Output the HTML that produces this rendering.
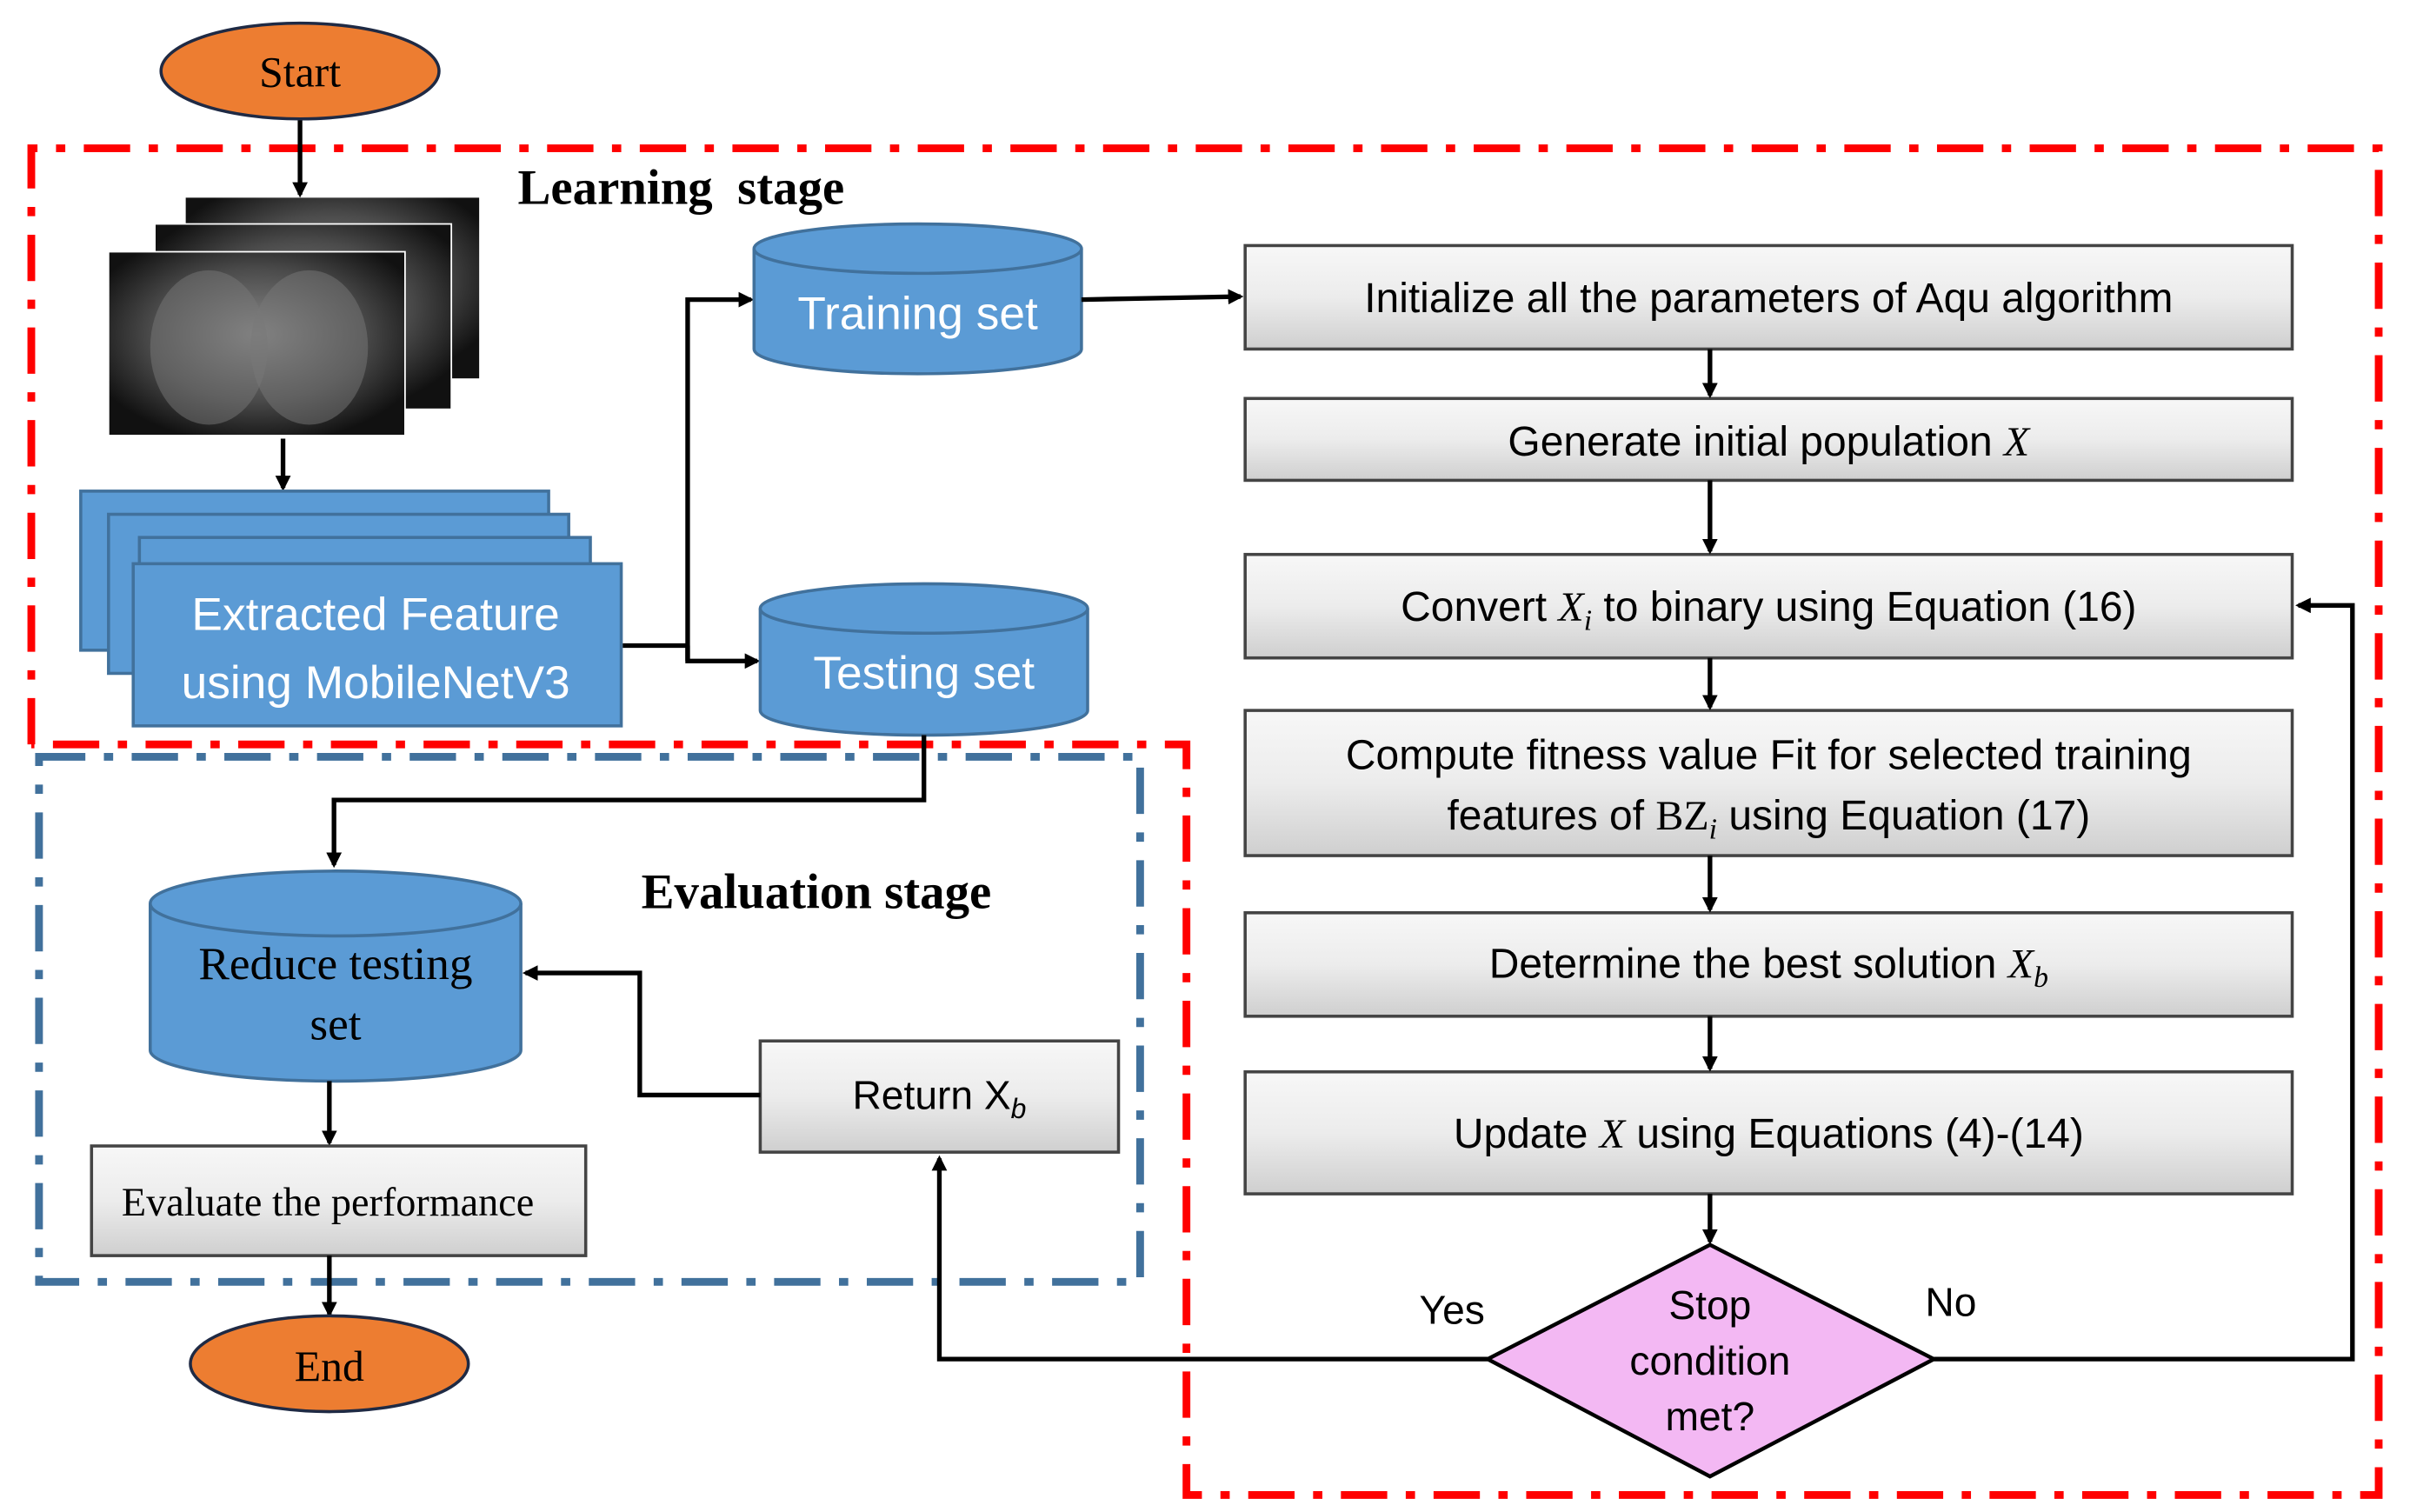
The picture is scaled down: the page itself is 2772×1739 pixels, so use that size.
<!DOCTYPE html>
<html><head><meta charset="utf-8"><style>html,body{margin:0;padding:0;background:#fff}svg{display:block}</style></head><body>
<svg width="2772" height="1739" viewBox="0 0 1560 979" xmlns="http://www.w3.org/2000/svg">
<defs>
<linearGradient id="g" x1="0" y1="0" x2="0" y2="1"><stop offset="0" stop-color="#f7f7f7"/><stop offset="0.5" stop-color="#ececec"/><stop offset="1" stop-color="#cfcfcf"/></linearGradient>
<radialGradient id="x" cx="0.5" cy="0.45" r="0.6"><stop offset="0" stop-color="#8a8a8a"/><stop offset="0.6" stop-color="#4a4a4a"/><stop offset="1" stop-color="#111"/></radialGradient>
<marker id="a" markerWidth="10" markerHeight="10" refX="8" refY="5" orient="auto" markerUnits="userSpaceOnUse"><path d="M0,0 L10,5 L0,10 z" fill="#000"/></marker>
</defs>
<g font-family="Liberation Sans, sans-serif">
<path d="M20,482 L20,96 L1540,96 L1540,968 L768,968 L768,482 L20,482" fill="none" stroke="#ff0000" stroke-width="5" stroke-dasharray="30 12 6 12"/>
<rect x="25" y="490" width="713" height="340" fill="none" stroke="#41719c" stroke-width="5" stroke-dasharray="30 12 6 12"/>
<text x="335" y="132" font-family="Liberation Serif, serif" font-weight="bold" font-size="32">Learning&#160; stage</text>
<text x="415" y="588" font-family="Liberation Serif, serif" font-weight="bold" font-size="32">Evaluation stage</text>
<ellipse cx="194" cy="46" rx="90" ry="31" fill="#ED7D31" stroke="#1f2a44" stroke-width="2"/>
<text x="194" y="56" text-anchor="middle" font-family="Liberation Serif, serif" font-size="28">Start</text>
<line x1="194" y1="78" x2="194" y2="126" stroke="#000" stroke-width="3" marker-end="url(#a)"/>
<rect x="120" y="128" width="190" height="117" fill="url(#x)"/>
<rect x="100" y="145" width="192" height="120" fill="url(#x)" stroke="#fff" stroke-width="1"/>
<rect x="70" y="163" width="192" height="119" fill="url(#x)" stroke="#fff" stroke-width="1"/>
<ellipse cx="135" cy="225" rx="38" ry="50" fill="#777" opacity="0.5"/>
<ellipse cx="200" cy="225" rx="38" ry="50" fill="#777" opacity="0.5"/>
<line x1="183" y1="284" x2="183" y2="316" stroke="#000" stroke-width="3" marker-end="url(#a)"/>
<rect x="52" y="318" width="303" height="103" fill="#5B9BD5" stroke="#41719C" stroke-width="2"/>
<rect x="70" y="333" width="298" height="103" fill="#5B9BD5" stroke="#41719C" stroke-width="2"/>
<rect x="90" y="348" width="292" height="103" fill="#5B9BD5" stroke="#41719C" stroke-width="2"/>
<rect x="86" y="365" width="316" height="105" fill="#5B9BD5" stroke="#41719C" stroke-width="2"/>
<text x="243" y="408" text-anchor="middle" fill="#fff" font-size="30">Extracted Feature</text>
<text x="243" y="452" text-anchor="middle" fill="#fff" font-size="30">using MobileNetV3</text>
<polyline points="403,418 445,418" fill="none" stroke="#000" stroke-width="3"/>
<polyline points="445,428 445,194 486,194" fill="none" stroke="#000" stroke-width="3" marker-end="url(#a)"/>
<polyline points="445,418 445,428 490,428" fill="none" stroke="#000" stroke-width="3" marker-end="url(#a)"/>
<path d="M488,161 L488,226 A106,16 0 0 0 700,226 L700,161" fill="#5B9BD5" stroke="#41719C" stroke-width="2"/>
<ellipse cx="594" cy="161" rx="106" ry="16" fill="#5B9BD5" stroke="#41719C" stroke-width="2"/>
<text x="594" y="213" text-anchor="middle" fill="#fff" font-size="30">Training set</text>
<line x1="700" y1="194" x2="803" y2="192" stroke="#000" stroke-width="3" marker-end="url(#a)"/>
<path d="M492,394 L492,460 A106,16 0 0 0 704,460 L704,394" fill="#5B9BD5" stroke="#41719C" stroke-width="2"/>
<ellipse cx="598" cy="394" rx="106" ry="16" fill="#5B9BD5" stroke="#41719C" stroke-width="2"/>
<text x="598" y="446" text-anchor="middle" fill="#fff" font-size="30">Testing set</text>
<polyline points="598,476 598,518 216,518 216,560" fill="none" stroke="#000" stroke-width="3" marker-end="url(#a)"/>
<path d="M97,585 L97,680 A120,20 0 0 0 337,680 L337,585" fill="#5B9BD5" stroke="#41719C" stroke-width="2"/>
<ellipse cx="217" cy="585" rx="120" ry="21" fill="#5B9BD5" stroke="#41719C" stroke-width="2"/>
<text x="217" y="634" text-anchor="middle" font-family="Liberation Serif, serif" font-size="30">Reduce testing</text>
<text x="217" y="673" text-anchor="middle" font-family="Liberation Serif, serif" font-size="30">set</text>
<line x1="213" y1="700" x2="213" y2="740" stroke="#000" stroke-width="3" marker-end="url(#a)"/>
<rect x="59" y="742" width="320" height="71" fill="url(#g)" stroke="#444" stroke-width="2"/>
<text x="212" y="787" text-anchor="middle" font-family="Liberation Serif, serif" font-size="26">Evaluate the performance</text>
<line x1="213" y1="813" x2="213" y2="851" stroke="#000" stroke-width="3" marker-end="url(#a)"/>
<ellipse cx="213" cy="883" rx="90" ry="31" fill="#ED7D31" stroke="#1f2a44" stroke-width="2"/>
<text x="213" y="894" text-anchor="middle" font-family="Liberation Serif, serif" font-size="28">End</text>
<rect x="492" y="674" width="232" height="72" fill="url(#g)" stroke="#444" stroke-width="2"/>
<text x="608" y="718" text-anchor="middle" font-size="26">Return X<tspan font-size="18" dy="6" font-style="italic">b</tspan></text>
<polyline points="492,709 414,709 414,630 340,630" fill="none" stroke="#000" stroke-width="3" marker-end="url(#a)"/>
<g stroke="#444" stroke-width="2" fill="url(#g)">
<rect x="806" y="159" width="678" height="67"/>
<rect x="806" y="258" width="678" height="53"/>
<rect x="806" y="359" width="678" height="67"/>
<rect x="806" y="460" width="678" height="94"/>
<rect x="806" y="591" width="678" height="67"/>
<rect x="806" y="694" width="678" height="79"/>
</g>
<g font-size="27" text-anchor="middle">
<text x="1145" y="202">Initialize all the parameters of Aqu algorithm</text>
<text x="1145" y="295">Generate initial population <tspan font-family="Liberation Serif, serif" font-style="italic">X</tspan></text>
<text x="1145" y="402">Convert <tspan font-family="Liberation Serif, serif" font-style="italic">X<tspan font-size="19" dy="6">i</tspan></tspan><tspan dy="-6"> to binary using Equation (16)</tspan></text>
<text x="1145" y="498">Compute fitness value Fit for selected training</text>
<text x="1145" y="537">features of <tspan font-family="Liberation Serif, serif">BZ<tspan font-style="italic" font-size="19" dy="6">i</tspan></tspan><tspan dy="-6"> using Equation (17)</tspan></text>
<text x="1145" y="633">Determine the best solution <tspan font-family="Liberation Serif, serif" font-style="italic">X<tspan font-size="19" dy="6">b</tspan></tspan></text>
<text x="1145" y="743">Update <tspan font-family="Liberation Serif, serif" font-style="italic">X</tspan> using Equations (4)-(14)</text>
</g>
<g stroke="#000" stroke-width="3" marker-end="url(#a)">
<line x1="1107" y1="226" x2="1107" y2="256"/>
<line x1="1107" y1="311" x2="1107" y2="357"/>
<line x1="1107" y1="426" x2="1107" y2="458"/>
<line x1="1107" y1="554" x2="1107" y2="589"/>
<line x1="1107" y1="658" x2="1107" y2="692"/>
<line x1="1107" y1="773" x2="1107" y2="804"/>
</g>
<polygon points="1107,806 1252,880 1107,956 963,880" fill="#F3B8F3" stroke="#000" stroke-width="2.5"/>
<text x="1107" y="854" text-anchor="middle" font-size="26">Stop</text>
<text x="1107" y="890" text-anchor="middle" font-size="26">condition</text>
<text x="1107" y="926" text-anchor="middle" font-size="26">met?</text>
<polyline points="963,880 608,880 608,750" fill="none" stroke="#000" stroke-width="3" marker-end="url(#a)"/>
<polyline points="1252,880 1523,880 1523,392 1488,392" fill="none" stroke="#000" stroke-width="3" marker-end="url(#a)"/>
<text x="940" y="857" text-anchor="middle" font-size="26">Yes</text>
<text x="1263" y="852" text-anchor="middle" font-size="26">No</text>
</g>
</svg>
</body></html>
